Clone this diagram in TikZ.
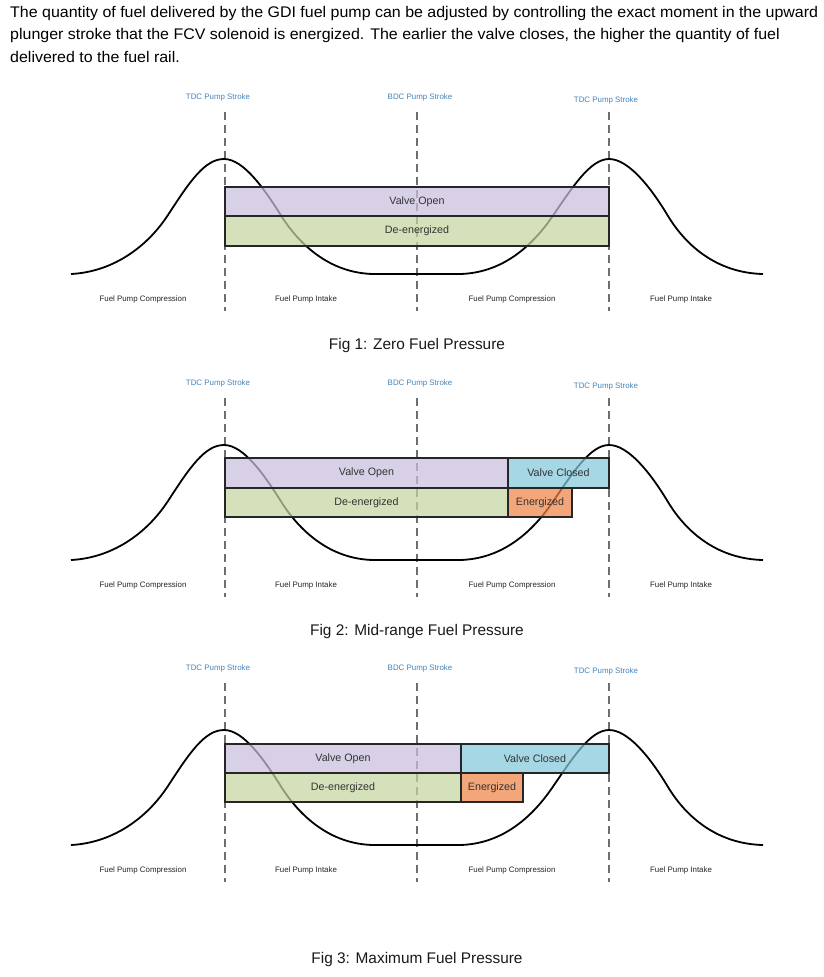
\documentclass[tikz,border=0pt]{standalone}
\usepackage{fontspec}
\setmainfont{Liberation Sans}
\usepackage{graphicx}
\definecolor{lblblue}{RGB}{70,132,186}
\definecolor{openpurple}{RGB}{201,191,221}
\definecolor{deengreen}{RGB}{198,214,160}
\definecolor{closedblue}{RGB}{131,200,218}
\definecolor{engorange}{RGB}{239,132,72}
\definecolor{guidegray}{RGB}{110,110,110}
\tikzset{
  guide/.style={draw=guidegray, line width=1.5pt, dash pattern=on 8pt off 5pt},
  pumpcurve/.style={draw=black, line width=1.8pt, line join=round},
  strokelbl/.style={font=\fontsize{7.9}{9}\selectfont, text=lblblue, inner sep=0pt, anchor=base},
  phaselbl/.style={font=\fontsize{7.9}{9}\selectfont, text=black!85, inner sep=0pt, anchor=base},
  figcaption/.style={font=\fontsize{15.4}{18}\selectfont, text=black!90, inner sep=0pt, anchor=base},
  barlbl/.style={font=\fontsize{10.7}{12}\selectfont, text=black!80},
  toptext/.style={inner sep=0pt, anchor=base west, text=black!90},
}
\newsavebox\toplineA
\newsavebox\toplineB
\newsavebox\toplineC
\newlength\toplen
\AtBeginDocument{%
\sbox\toplineA{\fontsize{15.4}{18}\selectfont The quantity of fuel delivered by the GDI fuel pump can be adjusted by controlling the exact moment in the upward}%
\sbox\toplineB{\fontsize{15.4}{18}\selectfont plunger stroke that the FCV solenoid is energized. The earlier the valve closes, the higher the quantity of fuel}%
\sbox\toplineC{\fontsize{15.4}{18}\selectfont delivered to the fuel rail.}%
\setlength\toplen{\wd\toplineA}%
\pgfmathsetmacro\topsx{808/\toplen}%
}
\newcommand\fuelbar[7]{%
  \node (#1) [fill=#6, fill opacity=0.72, text opacity=1, draw=black!85, draw opacity=1,
    line width=1.1pt, minimum width={#4pt-#2pt}, minimum height={#5pt-#3pt},
    inner sep=0pt, outer sep=0pt, barlbl] at ({(#2+#4)/2},{(#3+#5)/2}) {#7};}
\newcommand\pumpfigure[1]{%
  \node[strokelbl] (#1tdcA) at (218,99) {TDC Pump Stroke};
  \node[strokelbl] (#1bdc) at (420,99) {BDC Pump Stroke};
  \node[strokelbl] (#1tdcB) at (606,102) {TDC Pump Stroke};
  \coordinate (#1gAt) at (225,112); \coordinate (#1gAb) at (225,311);
  \coordinate (#1gBt) at (417,112); \coordinate (#1gBb) at (417,311);
  \coordinate (#1gCt) at (609,112); \coordinate (#1gCb) at (609,311);
  \draw[guide] (#1gAt) -- (#1gAb);
  \draw[guide] (#1gBt) -- (#1gBb);
  \draw[guide] (#1gCt) -- (#1gCb);
  \draw[pumpcurve] (71,274) .. controls (110,272) and (145,250) .. (168,215)
    .. controls (190,181) and (205,159) .. (224,159)
    .. controls (244,159) and (265,190) .. (282,217)
    .. controls (300,245) and (330,273) .. (373,274)
    -- (460,274)
    .. controls (500,273) and (530,249) .. (552,217)
    .. controls (572,188) and (590,159) .. (609,159)
    .. controls (628,159) and (650,186) .. (668,216)
    .. controls (688,249) and (720,273) .. (763,274);
  \node[phaselbl] (#1compA) at (143,301) {Fuel Pump Compression};
  \node[phaselbl] (#1intA) at (306,301) {Fuel Pump Intake};
  \node[phaselbl] (#1compB) at (512,301) {Fuel Pump Compression};
  \node[phaselbl] (#1intB) at (681,301) {Fuel Pump Intake};
}
\begin{document}
\begin{tikzpicture}[x=1pt,y=-1pt]
\useasboundingbox (0,0) rectangle (823,977);
\fill[white] (0,0) rectangle (823,977);
\node[toptext] (para1) at (10,17) {\scalebox{\topsx}[1]{\usebox\toplineA}};
\node[toptext] (para2) at (10,39.5) {\scalebox{\topsx}[1]{\usebox\toplineB}};
\node[toptext] (para3) at (10,62) {\scalebox{\topsx}[1]{\usebox\toplineC}};

% Figure 1
\begin{scope}
  \pumpfigure{f1}
  \fuelbar{f1open}{225}{187}{609}{216}{openpurple}{Valve Open}
  \fuelbar{f1deen}{225}{216}{609}{246}{deengreen}{De-energized}
\end{scope}
\node[figcaption] (cap1) at (417,349) {Fig 1: Zero Fuel Pressure};

% Figure 2
\begin{scope}[shift={(0,286)}]
  \pumpfigure{f2}
  \fuelbar{f2open}{225}{172}{508}{202}{openpurple}{Valve Open}
  \fuelbar{f2closed}{508}{172}{609}{202}{closedblue}{Valve Closed}
  \fuelbar{f2deen}{225}{202}{508}{231}{deengreen}{De-energized}
  \fuelbar{f2en}{508}{202}{572}{231}{engorange}{Energized}
\end{scope}
\node[figcaption] (cap2) at (417,635) {Fig 2: Mid-range Fuel Pressure};

% Figure 3
\begin{scope}[shift={(0,571)}]
  \pumpfigure{f3}
  \fuelbar{f3open}{225}{173}{461}{202}{openpurple}{Valve Open}
  \fuelbar{f3closed}{461}{173}{609}{202}{closedblue}{Valve Closed}
  \fuelbar{f3deen}{225}{202}{461}{231}{deengreen}{De-energized}
  \fuelbar{f3en}{461}{202}{523}{231}{engorange}{Energized}
\end{scope}
\node[figcaption] (cap3) at (417,963) {Fig 3: Maximum Fuel Pressure};
\end{tikzpicture}
\end{document}
